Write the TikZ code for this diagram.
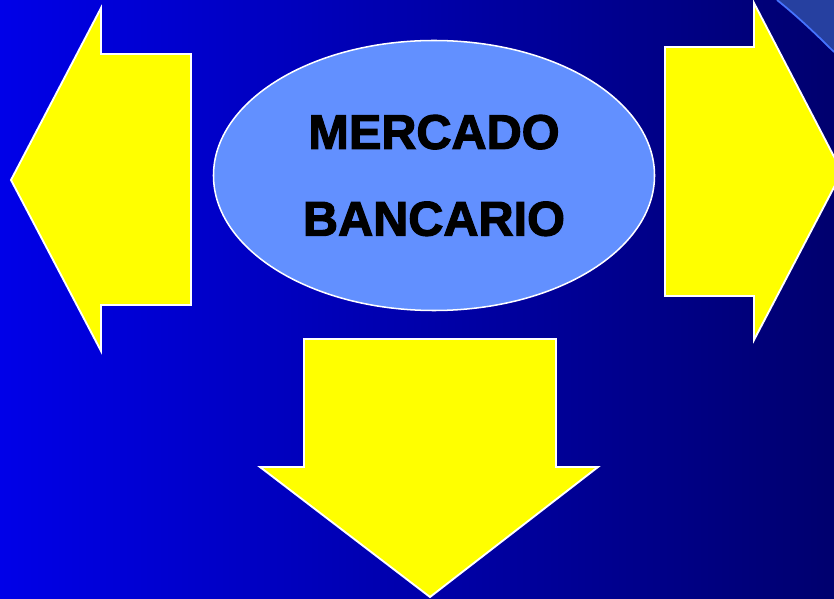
\documentclass[tikz,border=0pt]{standalone}
\usepackage{fontspec}
\setmainfont{Liberation Sans}
\newfontfamily\bankfont{Liberation Sans}[BoldFeatures={FakeBold=2.4}]
\usetikzlibrary{shapes.geometric}

\definecolor{bgleft}{RGB}{0,0,232}
\definecolor{bgright}{RGB}{0,0,110}
\definecolor{bankblue}{RGB}{98,144,255}
\definecolor{flowyellow}{RGB}{255,255,0}
\definecolor{cornerfill}{RGB}{38,64,160}
\definecolor{cornerline}{RGB}{70,115,255}

\begin{document}
\begin{tikzpicture}[
                x = 0.03cm, y = -0.03cm,
                bank/.style={ ellipse, fill = bankblue, draw = white, line width = 1.3pt,
                              minimum width = 13.23cm, minimum height = 8.1cm, inner sep = 0pt,
                              align = center, font = \bankfont\bfseries\fontsize{41.5}{74}\selectfont },
                flow/.style={ fill = flowyellow, draw = white, line width = 1.6pt, line join = miter }
            ]
            \shade [left color = bgleft, right color = bgright] (0, 0) rectangle (834, 599);
            \useasboundingbox (0, 0) rectangle (834, 599);

            % corner
            \fill [cornerfill] (777, 0) .. controls (797, 16) and (816, 34) .. (834, 52) -- (834, 0) -- cycle;
            \draw [cornerline, line width = 1.5pt] (777, 0) .. controls (797, 16) and (816, 34) .. (834, 52);

            \node (bank) [bank] at (434, 175.5) {MERCADO\\BANCARIO};

            % arrows
            \draw [flow] (11, 180) -- (101, 8) -- (101, 54) -- (191, 54) -- (191, 305)
                         -- (101, 305) -- (101, 351) -- cycle;
            \draw [flow] (842, 172) -- (754, 3) -- (754, 47) -- (665, 47) -- (665, 296)
                         -- (754, 296) -- (754, 340) -- cycle;
            \draw [flow] (430, 597) -- (260, 467) -- (304, 467) -- (304, 339) -- (556, 339)
                         -- (556, 467) -- (598, 467) -- cycle;
        \end{tikzpicture}
\end{document}
